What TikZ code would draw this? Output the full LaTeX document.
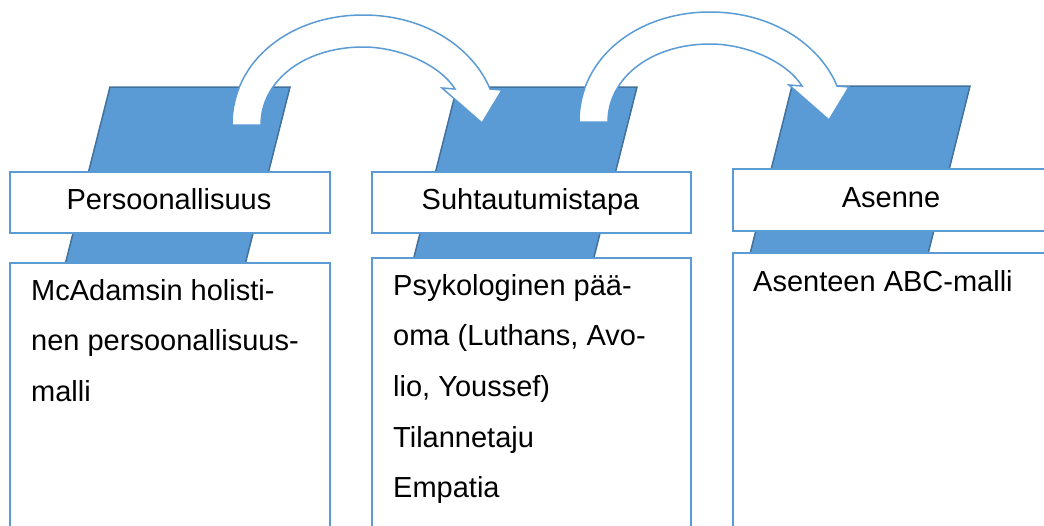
\documentclass[tikz,border=0pt]{standalone}
\usepackage{fontspec}
\setmainfont{Liberation Sans}
\definecolor{accent}{HTML}{5B9BD5}
\definecolor{accentdark}{HTML}{41719C}
\tikzset{
  slab/.style={fill=accent, draw=accentdark, line width=1.5pt, line join=miter},
  framebox/.style={fill=white, draw=accent, line width=2pt},
  bendarrow/.style={fill=white, draw=accent, line width=1.5pt, line join=miter},
  headtext/.style={anchor=base, inner sep=0pt, font=\fontsize{29}{35}\selectfont},
  bodytext/.style={anchor=base west, inner sep=0pt, font=\fontsize{29}{35}\selectfont},
  curvedstep/.pic={
    \draw[bendarrow] (232,125) .. controls (232,60) and (291,15) .. (363,15)
      .. controls (430,15) and (475,52) .. (490,89) -- (502,90) -- (482,123)
      -- (442,88) -- (455,89) .. controls (440,65) and (400,47) .. (363,47)
      .. controls (305,47) and (261,80) .. (261,125) -- cycle;
  }
}
\begin{document}
\begin{tikzpicture}[x=1pt,y=-1pt]
\useasboundingbox (0,0) rectangle (1044,525);
\clip (0,0) rectangle (1044,525);

% slanted backing panels
\draw[slab] (110,87) -- (290,87) -- (245,265) -- (65,265) -- cycle;
\draw[slab] (457,87) -- (637,87) -- (592,265) -- (412,265) -- cycle;
\draw[slab] (792,86) -- (970,86) -- (926,262) -- (748,262) -- cycle;

% column 1
\node[framebox, minimum width=320pt, minimum height=61pt, anchor=north west, inner sep=0pt] (h1) at (9,171) {};
\node[framebox, minimum width=320pt, minimum height=280pt, anchor=north west, inner sep=0pt] (b1) at (9,262) {};
\node[headtext] (t1) at (169,209) {Persoonallisuus};
\node[bodytext] (l11) at (31,300) {McAdamsin holisti-};
\node[bodytext] (l12) at (31,350) {nen persoonallisuus-};
\node[bodytext] (l13) at (31,401) {malli};

% column 2
\node[framebox, minimum width=319pt, minimum height=61pt, anchor=north west, inner sep=0pt] (h2) at (371,171) {};
\node[framebox, minimum width=319pt, minimum height=285pt, anchor=north west, inner sep=0pt] (b2) at (371,257) {};
\node[headtext] (t2) at (530.5,209) {Suhtautumistapa};
\node[bodytext] (l21) at (393,295) {Psykologinen pää-};
\node[bodytext] (l22) at (393,345) {oma (Luthans, Avo-};
\node[bodytext] (l23) at (393,396) {lio, Youssef)};
\node[bodytext] (l24) at (393,447) {Tilannetaju};
\node[bodytext] (l25) at (393,497) {Empatia};

% column 3
\node[framebox, minimum width=318pt, minimum height=62pt, anchor=north west, inner sep=0pt] (h3) at (732,168) {};
\node[framebox, minimum width=318pt, minimum height=290pt, anchor=north west, inner sep=0pt] (b3) at (732,252) {};
\node[headtext] (t3) at (891,207) {Asenne};
\node[bodytext] (l31) at (753,291) {Asenteen ABC-malli};

% curved transition arrows
\pic at (0,0) {curvedstep};
\pic at (347,-3) {curvedstep};
\end{tikzpicture}
\end{document}
